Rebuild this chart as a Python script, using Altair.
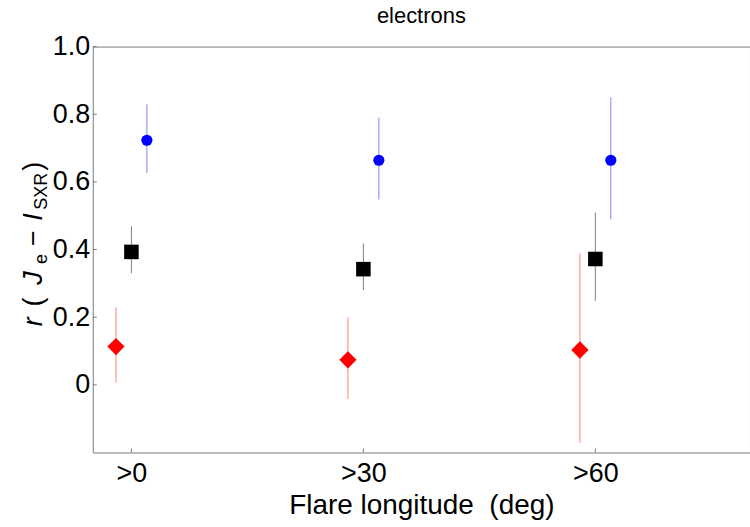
import altair as alt
import pandas as pd

# Longitude thresholds and their tick labels
longitudes = [0, 30, 60]
long_labels = [">0", ">30", ">60"]

# Correlation coefficients with their error ranges, one list per series
red_r = [0.113, 0.074, 0.103]
red_lo = [0.007, -0.042, -0.172]
red_hi = [0.229, 0.200, 0.389]

black_r = [0.393, 0.342, 0.372]
black_lo = [0.330, 0.280, 0.248]
black_hi = [0.469, 0.418, 0.509]

blue_r = [0.723, 0.664, 0.664]
blue_lo = [0.627, 0.548, 0.489]
blue_hi = [0.829, 0.790, 0.850]

y_ticks = [0, 0.2, 0.4, 0.6, 0.8, 1.0]

series = ["red", "black", "blue"]
colors = ["#ff0000", "#000000", "#0000ff"]
shapes = ["diamond", "square", "circle"]
sizes = [300, 125, 135]
dodge = {"red": -2, "black": 0, "blue": 2}

rows = []
for name, r, lo, hi in [
    ("red", red_r, red_lo, red_hi),
    ("black", black_r, black_lo, black_hi),
    ("blue", blue_r, blue_lo, blue_hi),
]:
    for lon, rv, lv, hv in zip(longitudes, r, lo, hi):
        rows.append({"series": name, "lon": lon + dodge[name], "r": rv, "lo": lv, "hi": hv})
df = pd.DataFrame(rows)

FONT = "Liberation Sans"
W, H = 659, 407
GRAY = "#7a7a7a"

x_scale = alt.Scale(domain=[-5, 80], nice=False, zero=False)
y_scale = alt.Scale(domain=[-0.2, 1.0], nice=False, zero=False)
color_scale = alt.Scale(domain=series, range=colors)

x_axis = alt.Axis(
    values=longitudes,
    labelExpr="'>' + datum.value",
    labelFontSize=27,
    labelFont=FONT,
    labelColor="black",
    labelPadding=8,
    ticks=False,
    domain=False,
    grid=False,
    title="Flare longitude \u00a0(deg)",
    titleFont=FONT,
    titleFontSize=28,
    titleFontWeight="normal",
    titleColor="black",
    titlePadding=5,
)
y_axis = alt.Axis(
    values=y_ticks,
    labelExpr="datum.value == 0 ? '0' : format(datum.value, '.1f')",
    labelFontSize=27,
    labelFont=FONT,
    labelColor="black",
    labelPadding=3,
    ticks=False,
    domain=False,
    grid=False,
    title=None,
)

base = alt.Chart(df)

# error bars
errors = base.mark_rule(strokeWidth=1, opacity=0.5).encode(
    x=alt.X("lon:Q", scale=x_scale, axis=x_axis),
    y=alt.Y("lo:Q", scale=y_scale, axis=y_axis),
    y2="hi:Q",
    color=alt.Color("series:N", scale=color_scale, legend=None),
)

# markers
points = base.mark_point(filled=True, opacity=1).encode(
    x=alt.X("lon:Q", scale=x_scale),
    y=alt.Y("r:Q", scale=y_scale),
    color=alt.Color("series:N", scale=color_scale, legend=None),
    shape=alt.Shape("series:N", scale=alt.Scale(domain=series, range=shapes), legend=None),
    size=alt.Size("series:N", scale=alt.Scale(domain=series, range=sizes), legend=None),
)

# small inward ticks on the frame
ytick_marks = alt.Chart(pd.DataFrame({"v": y_ticks})).mark_rule(color=GRAY, strokeWidth=1).encode(
    y=alt.Y("v:Q", scale=y_scale),
    x=alt.value(0),
    x2=alt.value(4),
)
xtick_marks = alt.Chart(pd.DataFrame({"v": longitudes})).mark_rule(color=GRAY, strokeWidth=1).encode(
    x=alt.X("v:Q", scale=x_scale),
    y=alt.value(H),
    y2=alt.value(H - 4),
)

# panel title above the frame
panel_title = alt.Chart(pd.DataFrame({"t": ["electrons"]})).mark_text(
    align="center", baseline="alphabetic", font=FONT, fontSize=22, color="black",
).encode(text="t:N", x=alt.value(W / 2), y=alt.value(-24))

# rotated y-axis title built from styled pieces: r ( J_e − I_SXR )
pieces = [
    ("r", 27, "italic", 322, 42),
    ("(", 27, "normal", 302, 42),
    ("J", 27, "italic", 278, 42),
    ("e", 18, "normal", 259, 47),
    ("\u2212", 27, "normal", 238, 42),
    ("I", 27, "italic", 217, 42),
    ("SXR", 18, "normal", 191, 47),
    (")", 27, "normal", 166, 42),
]
title_layers = []
for txt, fs, style, cy, bx in pieces:
    title_layers.append(
        alt.Chart(pd.DataFrame({"t": [txt]})).mark_text(
            angle=270, align="center", baseline="alphabetic",
            font=FONT, fontSize=fs, fontStyle=style, color="black",
        ).encode(
            text="t:N",
            x=alt.value(bx - 93),
            y=alt.value(cy - 46),
        )
    )

chart = alt.layer(
    errors, points, ytick_marks, xtick_marks, panel_title, *title_layers
).properties(
    width=W,
    height=H,
    autosize="none",
    padding={"left": 93, "top": 46, "right": 0, "bottom": 74},
    background="white",
).configure_view(stroke=GRAY, strokeWidth=1)

chart.save("out.html", embed_options={"renderer": "svg", "actions": False})
